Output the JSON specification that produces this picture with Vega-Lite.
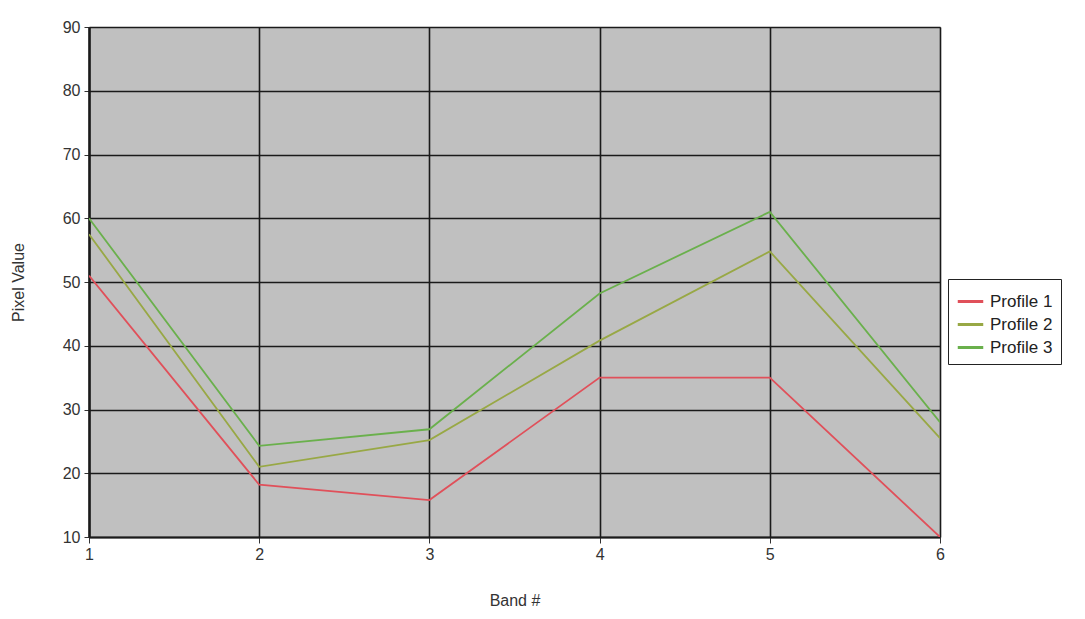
{
  "$schema": "https://vega.github.io/schema/vega-lite/v6.json",
  "width": 851,
  "height": 510,
  "autosize": {"type": "none"},
  "padding": {"left": 89, "top": 27, "right": 145, "bottom": 82},
  "background": "white",
  "config": {
    "font": "Liberation Sans",
    "view": {"fill": "#c0c0c0", "stroke": "#808080", "strokeWidth": 1}
  },
  "data": {
    "values": [
      {"band": 1, "value": 51, "profile": "Profile 1"},
      {"band": 2, "value": 18.2, "profile": "Profile 1"},
      {"band": 3, "value": 15.8, "profile": "Profile 1"},
      {"band": 4, "value": 35, "profile": "Profile 1"},
      {"band": 5, "value": 35, "profile": "Profile 1"},
      {"band": 6, "value": 10, "profile": "Profile 1"},
      {"band": 1, "value": 57.5, "profile": "Profile 2"},
      {"band": 2, "value": 21, "profile": "Profile 2"},
      {"band": 3, "value": 25.2, "profile": "Profile 2"},
      {"band": 4, "value": 40.8, "profile": "Profile 2"},
      {"band": 5, "value": 54.8, "profile": "Profile 2"},
      {"band": 6, "value": 25.5, "profile": "Profile 2"},
      {"band": 1, "value": 60, "profile": "Profile 3"},
      {"band": 2, "value": 24.3, "profile": "Profile 3"},
      {"band": 3, "value": 26.9, "profile": "Profile 3"},
      {"band": 4, "value": 48.2, "profile": "Profile 3"},
      {"band": 5, "value": 61, "profile": "Profile 3"},
      {"band": 6, "value": 28, "profile": "Profile 3"}
    ]
  },
  "mark": {"type": "line", "strokeWidth": 1.8, "clip": true},
  "encoding": {
    "x": {
      "field": "band",
      "type": "quantitative",
      "title": "Band #",
      "scale": {"domain": [1, 6], "nice": false, "zero": false},
      "axis": {
        "values": [1, 2, 3, 4, 5, 6],
        "format": "d",
        "labelFlush": false,
        "grid": true,
        "gridColor": "#1a1a1a",
        "gridWidth": 1.6,
        "gridOpacity": 1,
        "domainColor": "#1a1a1a",
        "domainWidth": 2,
        "tickColor": "#333333",
        "tickSize": 6,
        "labelFontSize": 16,
        "labelColor": "#333333",
        "labelPadding": 3,
        "titleFontSize": 16,
        "titleFontWeight": "normal",
        "titleColor": "#333333",
        "titlePadding": 30
      }
    },
    "y": {
      "field": "value",
      "type": "quantitative",
      "title": "Pixel Value",
      "scale": {"domain": [10, 90], "nice": false, "zero": false},
      "axis": {
        "values": [10, 20, 30, 40, 50, 60, 70, 80, 90],
        "labelFlush": false,
        "grid": true,
        "gridColor": "#1a1a1a",
        "gridWidth": 1.6,
        "gridOpacity": 1,
        "domainColor": "#1a1a1a",
        "domainWidth": 2.5,
        "tickColor": "#333333",
        "tickSize": 5,
        "labelFontSize": 16,
        "labelColor": "#333333",
        "labelPadding": 4,
        "titleFontSize": 16,
        "titleFontWeight": "normal",
        "titleColor": "#333333",
        "titlePadding": 36
      }
    },
    "color": {
      "field": "profile",
      "type": "nominal",
      "title": null,
      "scale": {
        "domain": ["Profile 1", "Profile 2", "Profile 3"],
        "range": ["#e0505a", "#98a845", "#6ab04c"]
      },
      "legend": {
        "orient": "none",
        "legendX": 859,
        "legendY": 252,
        "fillColor": "white",
        "strokeColor": "#222222",
        "padding": 8,
        "symbolType": "stroke",
        "symbolStrokeWidth": 3,
        "symbolSize": 650,
        "labelFontSize": 17,
        "labelColor": "#222222",
        "rowPadding": 0,
        "labelOffset": 5
      }
    }
  }
}
